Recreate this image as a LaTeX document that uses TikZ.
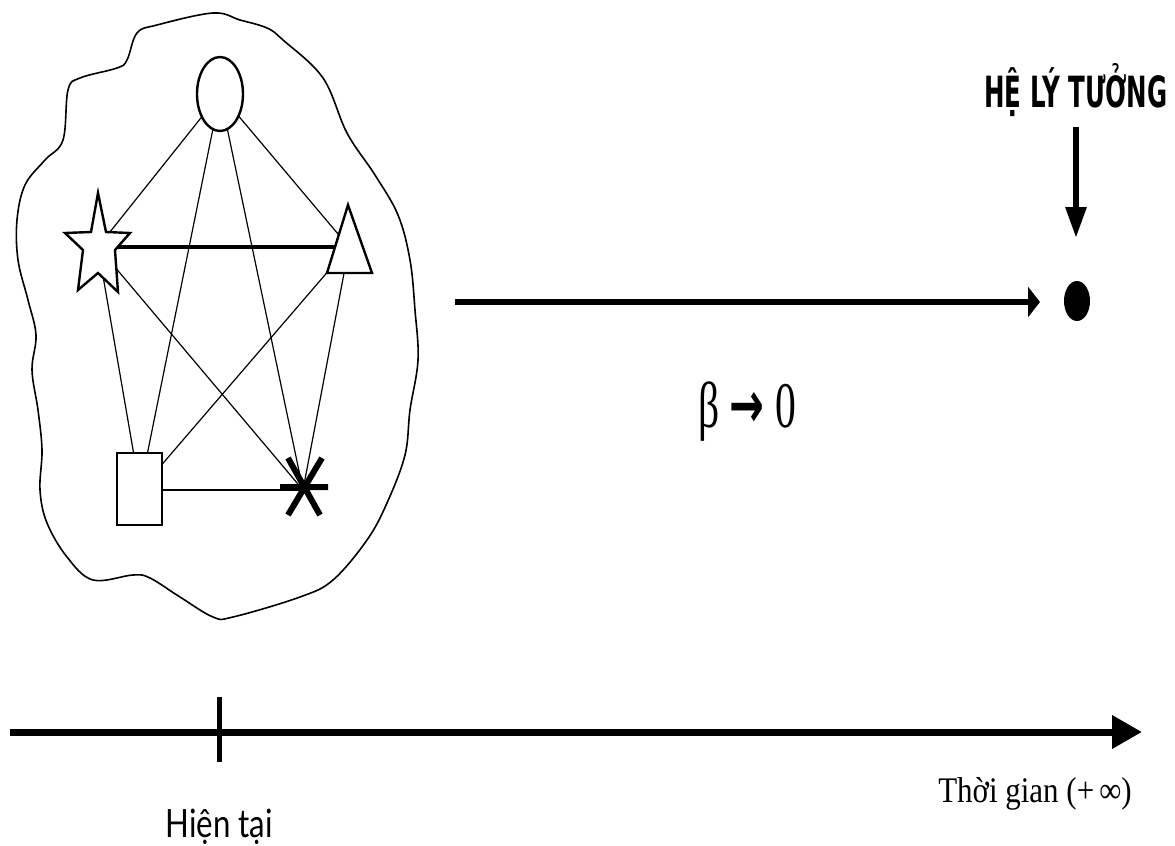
\documentclass[tikz,border=0pt]{standalone}
\usepackage{fontspec}
\usepackage{graphicx}
\usetikzlibrary{arrows.meta,shapes.geometric}
\newfontfamily\headfont{DejaVu Sans}
\newfontfamily\serifcond{Liberation Serif}
\newfontfamily\labelfont{Lato}
\begin{document}
\begin{tikzpicture}[x=0.5pt,y=-0.5pt,
  conn/.style={line width=0.6pt},
  boldconn/.style={line width=1.7pt},
  shapeline/.style={draw=black, fill=white, line width=1.2pt, line join=miter},
  blobline/.style={line width=0.8pt},
  bigarrow/.style={line width=3pt, -{Triangle[length=6pt,width=15pt]}},
  downarrow/.style={line width=3pt, -{Triangle[length=15.5pt,width=10pt]}},
  timearrow/.style={line width=3.5pt, -{Triangle[length=15pt,width=16pt]}},
  tickline/.style={line width=2.5pt},
  astline/.style={line width=3pt}]
\useasboundingbox (0,0) rectangle (1175,846);

% outline of the system
\draw[blobline] plot[smooth cycle, tension=0.6] coordinates {
  (213,13) (240,20) (267,28) (283,40) (323,78) (347,133) (375,175) (398,215)
  (410,260) (415,310) (418,360) (410,410) (405,455) (387,503) (367,540)
  (333,580) (300,597) (233,617) (213,617) (180,597) (150,578) (133,575)
  (93,580) (67,557) (47,523) (40,490) (42,450) (38,410) (32,370) (36,335)
  (28,300) (18,260) (17,220) (25,185) (45,160) (63,140) (68,90) (80,78)
  (117,68) (127,60) (137,33) (157,25)};

% element centres
\coordinate (circ) at (220,94);
\coordinate (star) at (98,247);
\coordinate (tri) at (349,247);
\coordinate (sq) at (140,490);
\coordinate (ast) at (303,490);

% connectors
\draw[conn] (circ) -- (star);
\draw[conn] (circ) -- (tri);
\draw[conn] (circ) -- (sq);
\draw[conn] (circ) -- (ast);
\draw[conn] (star) -- (sq);
\draw[conn] (star) -- (ast);
\draw[conn] (tri) -- (sq);
\draw[conn] (tri) -- (ast);
\draw[conn] (sq) -- (ast);
\draw[boldconn] (star) -- (tri);

% elements
\draw[shapeline] (circ) ellipse [x radius=23, y radius=37];
\draw[shapeline] (98,193) -- (106,232) -- (130,233) -- (115,250) -- (118,292)
  -- (98,273) -- (78,290) -- (83,250) -- (65,233) -- (91,232) -- cycle;
\draw[shapeline] (348,205) -- (372,273) -- (327,273) -- cycle;
\draw[shapeline] (117,453) rectangle (162,525);
\draw[astline] (280,487) -- (328,487) (288,458) -- (320,515) (322,458) -- (288,515);

% evolution arrow
\coordinate (evstart) at (455,302);
\coordinate (evend) at (1040,302);
\draw[bigarrow] (evstart) -- (evend);
\node[ellipse, fill=black, draw=none, inner sep=0pt, minimum width=13pt, minimum height=20pt] (dot) at (1077,301) {};
\node[anchor=base, inner sep=0pt] (beta) at (747,427)
  {\serifcond\fontsize{32.5}{36}\selectfont\scalebox{0.64}[1]{β {\headfont\bfseries →} 0}};

% ideal system label
\node[anchor=base, inner sep=0pt] (ideal) at (1076,107)
  {\headfont\bfseries\fontsize{21.5}{24}\selectfont\scalebox{0.57}[1]{HỆ LÝ TƯỞNG}};
\coordinate (vstart) at (1076,127);
\coordinate (vend) at (1076,238);
\draw[downarrow] (vstart) -- (vend);

% time axis
\coordinate (t0) at (10,732);
\coordinate (t1) at (1142,732);
\draw[timearrow] (t0) -- (t1);
\coordinate (now) at (219.5,732);
\draw[tickline] (219.5,697) -- (219.5,762);
\node[anchor=base, inner sep=0pt] (nowlabel) at (219,837)
  {\labelfont\fontsize{19.5}{22}\selectfont\scalebox{0.8}[1]{Hiện tại}};
\node[anchor=base, inner sep=0pt] (timelabel) at (1035,802)
  {\serifcond\fontsize{18}{20}\selectfont\scalebox{0.86}[1]{Thời gian (+\,∞)}};
\end{tikzpicture}
\end{document}
